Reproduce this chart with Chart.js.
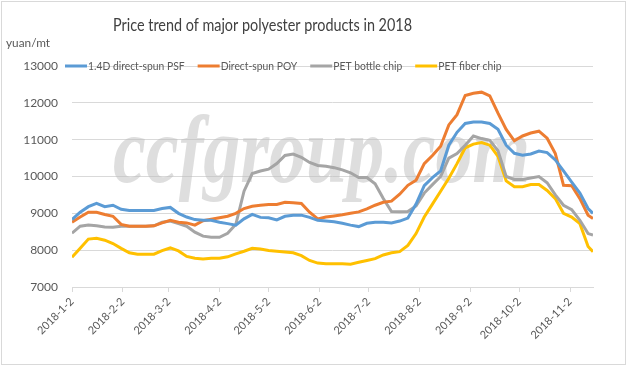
<!DOCTYPE html>
<html>
<head>
<meta charset="utf-8">
<script src="https://cdn.jsdelivr.net/npm/chart.js@4.4.1/dist/chart.umd.min.js"></script>
<style>
html, body { margin: 0; background: #fff; }
</style>
</head>
<body>
<canvas id="chart" width="628" height="368"></canvas>
<script>
// Days counted from 2018-1-2
const days = [0, 5, 10, 15, 20, 25, 30, 35, 40, 45, 50, 55, 60, 65, 70, 75, 80, 85, 90, 95,
  100, 105, 110, 115, 120, 125, 130, 135, 140, 145, 150, 155, 160, 165, 170, 175, 180, 185, 190, 195,
  200, 205, 210, 215, 220, 225, 230, 235, 240, 245, 250, 255, 260, 265, 270, 275, 280, 285, 290, 295,
  300, 305, 310, 315, 318];

const psf = [8830, 9030, 9180, 9270, 9180, 9220, 9110, 9080, 9080, 9080, 9080, 9130, 9160, 9000, 8900, 8830, 8810, 8810, 8760, 8720,
  8680, 8850, 8970, 8890, 8880, 8820, 8920, 8950, 8950, 8890, 8810, 8790, 8770, 8730, 8680, 8640, 8730, 8760, 8760, 8740,
  8790, 8870, 9250, 9750, 9970, 10150, 10850, 11200, 11440, 11480, 11480, 11440, 11280, 10850, 10630, 10580, 10610, 10690, 10650, 10450,
  10150, 9850, 9550, 9130, 9000];

const poy = [8760, 8900, 9030, 9030, 8970, 8920, 8700, 8650, 8650, 8650, 8660, 8740, 8810, 8760, 8740, 8680, 8800, 8840, 8880, 8920,
  9000, 9130, 9190, 9220, 9240, 9240, 9300, 9290, 9270, 9030, 8850, 8900, 8930, 8960, 9000, 9040, 9120, 9220, 9300, 9330,
  9520, 9760, 9900, 10350, 10570, 10820, 11400, 11680, 12200, 12260, 12290, 12190, 11720, 11280, 10970, 11100, 11180, 11230, 11040, 10620,
  9760, 9750, 9400, 8950, 8860];

const bottleChip = [8460, 8650, 8680, 8660, 8630, 8620, 8650, 8650, 8650, 8650, 8660, 8760, 8790, 8720, 8650, 8490, 8380, 8350, 8350, 8460,
  8700, 9600, 10080, 10150, 10200, 10350, 10570, 10610, 10520, 10380, 10300, 10280, 10240, 10180, 10100, 9970, 9970, 9800, 9400, 9050,
  9040, 9050, 9200, 9550, 9780, 10000, 10500, 10620, 10850, 11100, 11030, 10980, 10700, 10000, 9920, 9920, 9960, 10000, 9830, 9500,
  9220, 9100, 8810, 8450, 8410];

const fiberChip = [7810, 8050, 8300, 8320, 8270, 8180, 8050, 7930, 7890, 7890, 7890, 7990, 8060, 7980, 7830, 7780, 7760, 7780, 7780, 7820,
  7900, 7970, 8050, 8030, 7990, 7970, 7950, 7930, 7850, 7720, 7650, 7630, 7630, 7630, 7620, 7670, 7720, 7770, 7870, 7930,
  7960, 8130, 8450, 8900, 9250, 9600, 9950, 10350, 10780, 10880, 10920, 10850, 10550, 9880, 9720, 9720, 9780, 9780, 9620, 9400,
  9000, 8900, 8720, 8100, 7960];

const seriesNames = ['1.4D direct-spun PSF', 'Direct-spun POY', 'PET bottle chip', 'PET fiber chip'];
const seriesColors = ['#5B9BD5', '#ED7D31', '#A5A5A5', '#FFC000'];

// month ticks
const tickDays = [0, 31, 59, 90, 120, 151, 181, 212, 243, 273, 304];
const tickLabels = ['2018-1-2', '2018-2-2', '2018-3-2', '2018-4-2', '2018-5-2', '2018-6-2',
  '2018-7-2', '2018-8-2', '2018-9-2', '2018-10-2', '2018-11-2'];

const FONT = 'Lato';
const TEXT = '#595959';

const toPoints = vals => days.map((d, i) => ({ x: d, y: vals[i] }));

// draw text squeezed to a given width (Calibri is narrower than Lato)
function fitText(ctx, text, x, y, width) {
  const w = ctx.measureText(text).width;
  ctx.save();
  ctx.translate(x, y);
  ctx.scale(Math.min(1, width / w), 1);
  ctx.fillText(text, 0, 0);
  ctx.restore();
}

const extras = {
  id: 'extras',
  beforeDatasetsDraw(chart) {
    const { ctx } = chart;
    // watermark
    ctx.save();
    ctx.font = 'italic bold 96px "Liberation Serif"';
    const w = ctx.measureText('ccfgroup.com').width;
    ctx.translate(113, 182);
    ctx.scale(417 / w, 1);
    ctx.fillStyle = 'rgba(190,190,190,0.5)';
    ctx.textBaseline = 'alphabetic';
    ctx.fillText('ccfgroup.com', 0, 0);
    ctx.restore();
  },
  afterDraw(chart) {
    const { ctx } = chart;
    ctx.save();
    // border
    ctx.strokeStyle = '#D9D9D9';
    ctx.lineWidth = 1;
    ctx.strokeRect(1.5, 1.5, 624, 363);

    // title
    ctx.fillStyle = '#404040';
    ctx.font = '18px ' + FONT;
    ctx.textAlign = 'left';
    ctx.textBaseline = 'middle';
    fitText(ctx, 'Price trend of major polyester products in 2018', 113, 25, 299);

    // unit
    ctx.fillStyle = TEXT;
    ctx.font = '12px ' + FONT;
    fitText(ctx, 'yuan/mt', 6, 43, 44);

    // legend
    const ly = chart.scales.y.getPixelForValue(13000);
    ctx.font = '12px ' + FONT;
    let lx = 65;
    seriesNames.forEach((name, i) => {
      ctx.strokeStyle = seriesColors[i];
      ctx.lineWidth = 3;
      ctx.beginPath();
      ctx.moveTo(lx, ly);
      ctx.lineTo(lx + 22, ly);
      ctx.stroke();
      ctx.fillStyle = TEXT;
      const tw = ctx.measureText(name).width * 0.86;
      fitText(ctx, name, lx + 23, ly, tw);
      lx += 23 + tw + 13;
    });
    ctx.restore();
  }
};

new Chart(document.getElementById('chart'), {
  type: 'line',
  data: {
    datasets: [psf, poy, bottleChip, fiberChip].map((vals, i) => ({
      label: seriesNames[i],
      data: toPoints(vals),
      borderColor: seriesColors[i],
      backgroundColor: seriesColors[i],
      borderWidth: 3,
      pointRadius: 0,
      tension: 0,
      fill: false
    }))
  },
  options: {
    responsive: false,
    animation: false,
    layout: { padding: { left: 0, right: 35, top: 66, bottom: 0 } },
    plugins: {
      legend: { display: false },
      title: { display: false },
      tooltip: { enabled: false }
    },
    scales: {
      x: {
        type: 'linear',
        min: 0,
        max: 318,
        afterBuildTicks: scale => { scale.ticks = tickDays.map(v => ({ value: v })); },
        afterFit: scale => { scale.height = 81; },
        ticks: {
          autoSkip: false,
          minRotation: 45,
          maxRotation: 45,
          color: TEXT,
          font: { family: FONT, size: 11 },
          callback: v => tickLabels[tickDays.indexOf(v)]
        },
        grid: { drawOnChartArea: false, drawTicks: true, tickLength: 5, color: '#D9D9D9' },
        border: { display: true, color: '#D9D9D9' }
      },
      y: {
        min: 7000,
        max: 13000,
        afterFit: scale => { scale.width = 72; },
        ticks: {
          stepSize: 1000,
          color: TEXT,
          padding: 14,
          font: { family: FONT, size: 12 },
          callback: v => String(v)
        },
        grid: { color: '#D9D9D9', drawTicks: false },
        border: { display: false }
      }
    }
  },
  plugins: [extras]
});
</script>
</body>
</html>
